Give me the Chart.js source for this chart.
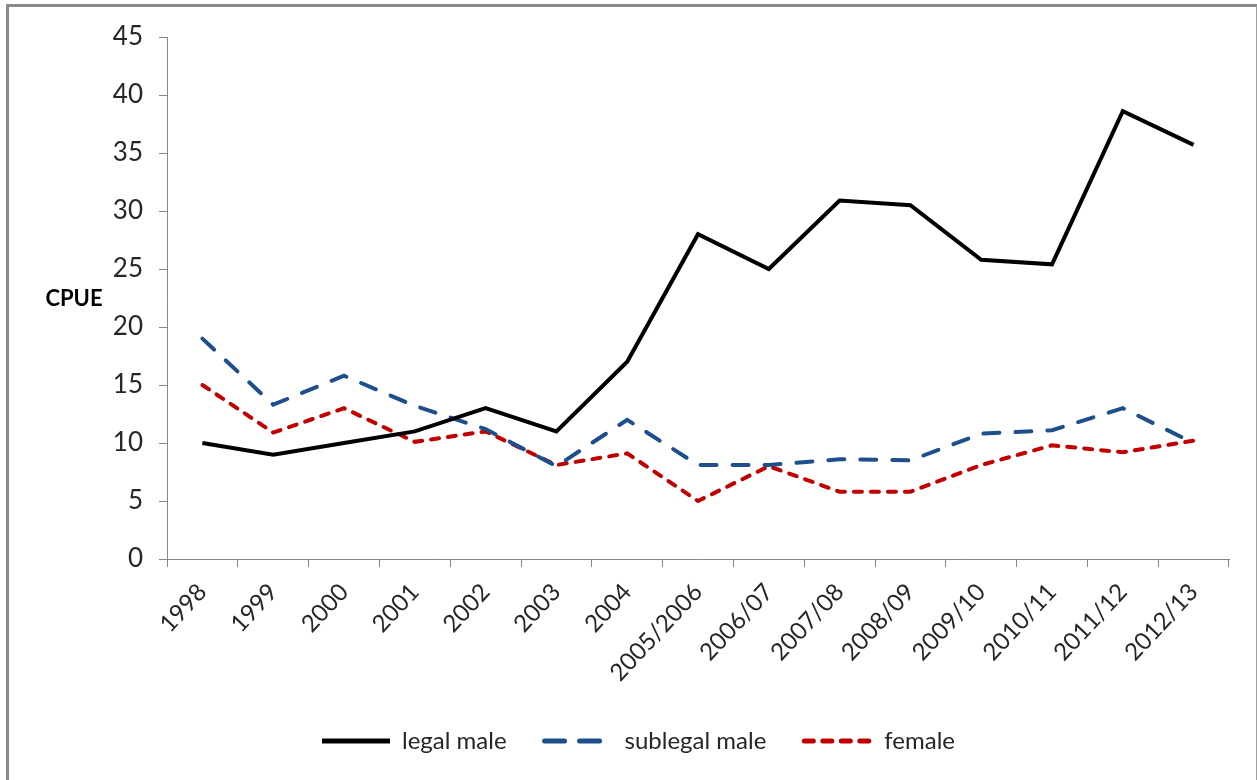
<!DOCTYPE html>
<html>
<head>
<meta charset="utf-8">
<script src="https://cdn.jsdelivr.net/npm/chart.js@4.4.1/dist/chart.umd.min.js"></script>
<style>
  body { margin:0; background:#fff; }
  #frame { position:absolute; left:6px; top:4px; width:1247px; height:820px;
           border-left:3px solid #8a8a8a; border-top:3px solid #8a8a8a; border-right:2px solid #a0a0a0; }
  #myChart { position:absolute; left:0; top:0; }
</style>
</head>
<body>
<div id="frame"></div>
<canvas id="myChart" width="1257" height="780"></canvas>
<script>
var seasons=['1998','1999','2000','2001','2002','2003','2004','2005/2006','2006/07','2007/08','2008/09','2009/10','2010/11','2011/12','2012/13'];
var legal_male=[10,9,10,11,13,11,17,28,25,30.9,30.5,25.8,25.4,38.6,35.7];
var sublegal_male=[19,13.3,15.8,13.2,11.2,8,12,8.1,8.1,8.6,8.5,10.8,11.1,13,10];
var female=[15,10.9,13,10.1,11,8.1,9.1,5,8,5.8,5.8,8.1,9.8,9.2,10.2];
var y_ticks=[0,5,10,15,20,25,30,35,40,45];

var axisColor='#868686';
var font='Lato, "Open Sans", sans-serif';
var legendDash=[[],[20,15],[9,9.5]];

// "CPUE" sits horizontal, left of the axis
var cpueLabel={
  id:'cpueLabel',
  afterLayout:function(chart){
    // legend is centred on the whole frame, not on the plot
    chart.legend.left+=24;
    chart.legend.right+=24;
  },
  afterDraw:function(chart){
    var ctx=chart.ctx;
    ctx.save();
    ctx.font='bold 22px '+font;
    ctx.fillStyle='#000';
    ctx.textAlign='center';
    ctx.textBaseline='middle';
    ctx.fillText('CPUE',74,299);
    ctx.restore();
  }
};

// legend keeps the dash pattern of each line
function legendItems(chart){
  var items=Chart.defaults.plugins.legend.labels.generateLabels(chart);
  items.forEach(function(it){
    var ds=chart.data.datasets[it.datasetIndex];
    it.lineDash=legendDash[it.datasetIndex];
    it.lineCap=ds.borderCapStyle||'butt';
    it.strokeStyle=ds.borderColor;
    it.lineWidth=5;
  });
  return items;
}

var ctx=document.getElementById('myChart').getContext('2d');
var chart=new Chart(ctx,{
  type:'line',
  data:{
    labels:seasons,
    datasets:[{
      label:'legal male',
      data:legal_male,
      borderColor:'#000',
      backgroundColor:'#000',
      borderWidth:4,
      pointRadius:0,
      tension:0
    },{
      label:'sublegal male',
      data:sublegal_male,
      borderColor:'#1f4e8c',
      backgroundColor:'#1f4e8c',
      borderWidth:4,
      borderDash:[16,16],
      borderCapStyle:'round',
      pointRadius:0,
      tension:0
    },{
      label:'female',
      data:female,
      borderColor:'#c00000',
      backgroundColor:'#c00000',
      borderWidth:4,
      borderDash:[8,9],
      borderCapStyle:'round',
      pointRadius:0,
      tension:0
    }]
  },
  options:{
    responsive:false,
    animation:false,
    layout:{padding:{top:37,right:28,bottom:17,left:0}},
    plugins:{
      tooltip:{enabled:false},
      legend:{
        position:'bottom',
        labels:{
          usePointStyle:true,
          pointStyle:'line',
          pointStyleWidth:68,
          padding:38,
          color:'#262626',
          font:{family:font,size:24},
          generateLabels:legendItems
        }
      }
    },
    scales:{
      x:{
        offset:true,
        grid:{offset:true,drawOnChartArea:false,tickLength:8,color:axisColor},
        border:{color:axisColor},
        ticks:{minRotation:47,maxRotation:47,color:'#262626',font:{family:font,size:24},padding:11},
        afterFit:function(s){s.height=132;}
      },
      y:{
        min:0,max:45,
        grid:{drawOnChartArea:false,tickLength:8,color:axisColor},
        border:{color:axisColor},
        afterBuildTicks:function(s){s.ticks=y_ticks.map(function(v){return {value:v};});},
        ticks:{color:'#262626',font:{family:font,size:26},padding:16},
        afterFit:function(s){s.width=167;}
      }
    }
  },
  plugins:[cpueLabel]
});
</script>
</body>
</html>
